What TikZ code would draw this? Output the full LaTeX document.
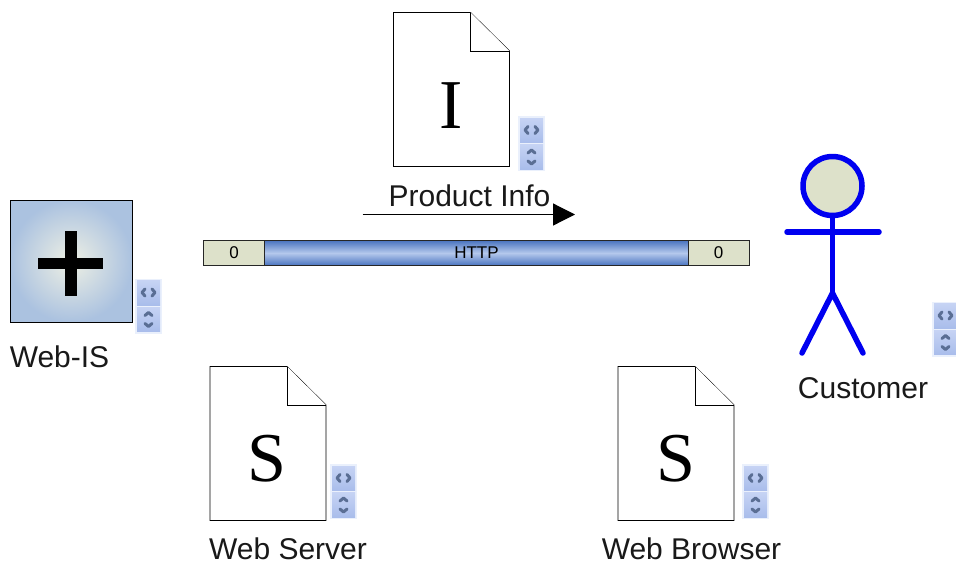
\documentclass[tikz,border=0pt]{standalone}
\usepackage{fontspec}
\setmainfont{Liberation Sans}
\newfontfamily\serifdoc{Liberation Serif}
\usetikzlibrary{arrows.meta}
\definecolor{sage}{HTML}{DDE1CA}
\definecolor{barblue}{HTML}{4A74C0}
\definecolor{barlight}{HTML}{B4C8EC}
\definecolor{isblue}{HTML}{ABC2E0}
\definecolor{iscentre}{HTML}{EEF0E4}
\definecolor{ctrlhalo}{HTML}{EAF0FC}
\definecolor{ctrltop}{HTML}{C6D3F4}
\definecolor{ctrlbot}{HTML}{A9BDEB}
\definecolor{ctrlink}{HTML}{5A6E94}
\definecolor{actorblue}{HTML}{0000F0}
\tikzset{
  x=1pt,y=-1pt,
  lbl/.style={inner sep=0pt,font=\fontsize{30}{32}\selectfont,text=black!90},
  doc/.style={draw=black,line width=0.9pt,fill=white,line join=miter},
  doctext/.style={inner sep=0pt,font=\serifdoc\fontsize{70}{70}\selectfont},
  cell/.style={draw=black!85,line width=0.9pt,fill=sage,minimum height=25pt,inner sep=0pt,font=\fontsize{17}{18}\selectfont},
  actor/.style={draw=actorblue,line width=5.5pt,line cap=round},
  ctrlface/.style={top color=ctrltop,bottom color=ctrlbot,draw=none},
  ctrlmark/.style={draw=ctrlink,line width=3pt,line cap=round,line join=round},
  pics/ctrl/.style={code={
    \fill[ctrlhalo] (0,0) rectangle (27,55);
    \path[ctrlface] (2,2) rectangle (25,26.5);
    \path[ctrlface] (2,28.5) rectangle (25,53);
    \draw[ctrlmark] (10,10.5) -- (7,14) -- (10,17.5);
    \draw[ctrlmark] (17,10.5) -- (20,14) -- (17,17.5);
    \draw[ctrlmark] (10,37) -- (13.5,34) -- (17,37);
    \draw[ctrlmark] (10,45) -- (13.5,48) -- (17,45);
  }},
  pics/docicon/.style={code={
    \draw[doc] (0,0) -- (77,0) -- (116,38.5) -- (116,154) -- (0,154) -- cycle;
    \draw[doc] (77,0) -- (77,38.5) -- (116,38.5);
  }}
}
\begin{document}
\begin{tikzpicture}
\useasboundingbox (0,0) rectangle (956,563);
% top document
\pic at (393.5,12.5) {docicon};
\node[doctext] (infoletter) at (451.5,106) {I};
\pic at (518,116) {ctrl};
\node[lbl,anchor=center] (infolabel) at (469.5,196) {Product Info};
\coordinate (flowstart) at (362.5,214.5);
\coordinate (flowend) at (575,214.5);
\draw[line width=1.2pt,-{Triangle[length=22pt,width=22pt]}] (flowstart) -- (flowend);
% Web-IS
\node[draw=black,line width=0.9pt,minimum size=122pt,inner sep=0pt,inner color=iscentre,outer color=isblue] (webis) at (71,261) {};
\fill[black] (65,231) rectangle (77,296);
\fill[black] (38,258) rectangle (103,269);
\pic at (135,278.5) {ctrl};
\node[lbl] (webislabel) at (59.5,357) {Web-IS};
% HTTP bar
\node[draw=black!85,line width=0.9pt,minimum width=424pt,minimum height=25pt,inner sep=0pt,top color=barblue,bottom color=barblue,middle color=barlight,font=\fontsize{17}{18}\selectfont] (bar) at (476.5,253) {HTTP};
\node[cell,minimum width=61pt] (leftcell) at (234,253) {0};
\node[cell,minimum width=61pt] (rightcell) at (718.5,253) {0};
% actor
\draw[actor,fill=sage] (832.5,186) circle (29.5);
\coordinate (neck) at (832.5,216);
\coordinate (hip) at (832.5,293);
\coordinate (armL) at (787,232);
\coordinate (armR) at (879,232);
\coordinate (footL) at (802,353);
\coordinate (footR) at (863,353);
\draw[actor] (neck) -- (hip);
\draw[actor] (armL) -- (armR);
\draw[actor] (footL) -- (hip) -- (footR);
\pic at (932,301.5) {ctrl};
\node[lbl] (customerlabel) at (863,388) {Customer};
% bottom documents
\pic at (210,366.5) {docicon};
\node[doctext] (serverletter) at (266.5,459) {S};
\pic at (330,464) {ctrl};
\node[lbl] (serverlabel) at (288,549) {Web Server};
\pic at (618,366.5) {docicon};
\node[doctext] (browserletter) at (676,459) {S};
\pic at (742,464) {ctrl};
\node[lbl] (browserlabel) at (691.5,549) {Web Browser};
\end{tikzpicture}
\end{document}
